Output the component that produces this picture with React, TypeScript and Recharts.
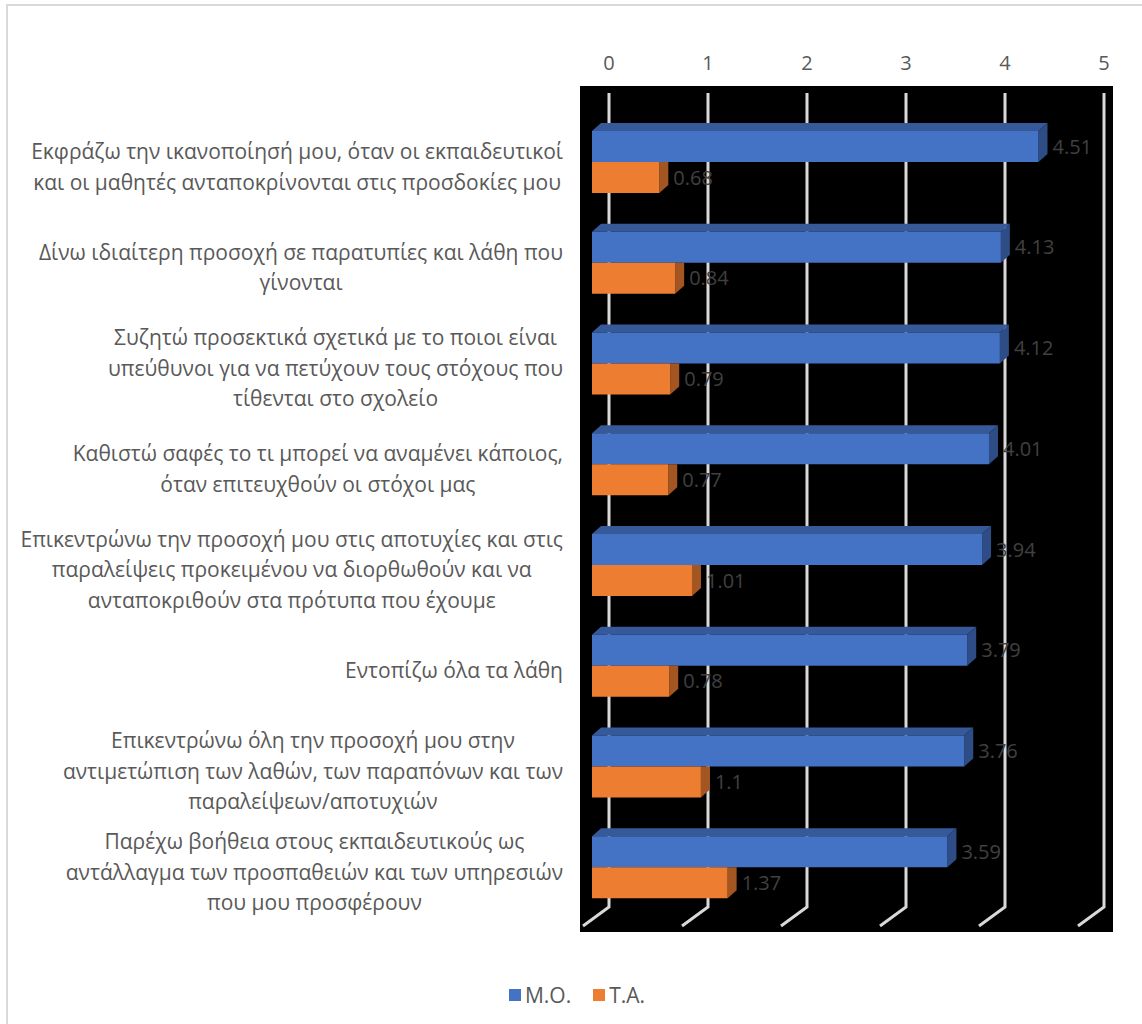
import { BarChart, Bar, XAxis, YAxis, CartesianGrid, LabelList, Legend } from 'recharts';

const categories: string[][] = [
  ['Εκφράζω την ικανοποίησή μου, όταν οι εκπαιδευτικοί', 'και οι μαθητές ανταποκρίνονται στις προσδοκίες μου'],
  ['Δίνω ιδιαίτερη προσοχή σε παρατυπίες και λάθη που', 'γίνονται'],
  ['Συζητώ προσεκτικά σχετικά με το ποιοι είναι', 'υπεύθυνοι για να πετύχουν τους στόχους που', 'τίθενται στο σχολείο'],
  ['Καθιστώ σαφές το τι μπορεί να αναμένει κάποιος,', 'όταν επιτευχθούν οι στόχοι μας'],
  ['Επικεντρώνω την προσοχή μου στις αποτυχίες και στις', 'παραλείψεις προκειμένου να διορθωθούν και να', 'ανταποκριθούν στα πρότυπα που έχουμε'],
  ['Εντοπίζω όλα τα λάθη'],
  ['Επικεντρώνω όλη την προσοχή μου στην', 'αντιμετώπιση των λαθών, των παραπόνων και των', 'παραλείψεων/αποτυχιών'],
  ['Παρέχω βοήθεια στους εκπαιδευτικούς ως', 'αντάλλαγμα των προσπαθειών και των υπηρεσιών', 'που μου προσφέρουν'],
];

const meanValues = [4.51, 4.13, 4.12, 4.01, 3.94, 3.79, 3.76, 3.59];
const sdValues = [0.68, 0.84, 0.79, 0.77, 1.01, 0.78, 1.1, 1.37];

const xTicks = [0, 1, 2, 3, 4, 5];

const seriesNames = { mean: 'Μ.Ο.', sd: 'Τ.Α.' };

const data = categories.map((lines, i) => ({
  name: lines.join('|'),
  mean: meanValues[i],
  sd: sdValues[i],
}));

const FONT = '"Open Sans", "Noto Sans", sans-serif';
const TEXT = '#595959';
// 3d look: back wall is shifted right/up from the bar front faces
const DEPTH_X = 9;
const DEPTH_Y = 8;
const WALL_SHIFT = 17;

let measureCtx: CanvasRenderingContext2D | null = null;
function textWidth(s: string, font: string) {
  if (!measureCtx) measureCtx = document.createElement('canvas').getContext('2d');
  if (!measureCtx) return s.length * 10;
  measureCtx.font = font;
  return measureCtx.measureText(s).width;
}

function CategoryTick(props: any) {
  const { x, y, payload } = props;
  const lines: string[] = String(payload.value).split('|');
  const size = 21;
  const maxW = Math.max(...lines.map((l) => textWidth(l, `${size}px ${FONT}`)));
  const cx = x - maxW / 2;
  const lh = 30.5;
  return (
    <g>
      {lines.map((l, i) => (
        <text
          key={i}
          x={cx}
          y={y + 12 + (i - (lines.length - 1) / 2) * lh}
          textAnchor="middle"
          fontSize={size}
          fontFamily={FONT}
          fill={TEXT}
        >
          {l}
        </text>
      ))}
    </g>
  );
}

function ValueTick(props: any) {
  const { x, y, payload } = props;
  return (
    <text x={x + WALL_SHIFT} y={y - 16} textAnchor="middle" fontSize={20} fontFamily={FONT} fill={TEXT}>
      {payload.value}
    </text>
  );
}

function GridLine(props: any) {
  const { x1, y1, y2 } = props;
  const x = x1 + WALL_SHIFT;
  return (
    <path
      key={`g-${x1}`}
      d={`M${x},${y1 + 7} L${x},${y2 - 25} L${x - 26},${y2 - 6}`}
      stroke="#D9D9D9"
      strokeWidth={3}
      fill="none"
    />
  );
}

function MeanBar(props: any) {
  const { x, y, width, height } = props;
  if (!width || width <= 0) return null;
  return (
    <g>
      <polygon
        points={`${x},${y} ${x + DEPTH_X},${y - DEPTH_Y} ${x + width + DEPTH_X},${y - DEPTH_Y} ${x + width},${y}`}
        fill="#36599A"
      />
      <polygon
        points={`${x + width},${y} ${x + width + DEPTH_X},${y - DEPTH_Y} ${x + width + DEPTH_X},${y + height - DEPTH_Y} ${x + width},${y + height}`}
        fill="#2E4C85"
      />
      <rect x={x} y={y} width={width} height={height} fill="#4472C4" />
    </g>
  );
}

function SdBar(props: any) {
  const { x, y, width, height } = props;
  if (!width || width <= 0) return null;
  return (
    <g>
      <polygon
        points={`${x + width},${y} ${x + width + DEPTH_X},${y} ${x + width + DEPTH_X},${y + height - DEPTH_Y} ${x + width},${y + height}`}
        fill="#A35522"
      />
      <rect x={x} y={y} width={width} height={height} fill="#ED7D31" />
    </g>
  );
}

function LegendContent() {
  const items = [
    { name: seriesNames.mean, color: '#4472C4' },
    { name: seriesNames.sd, color: '#ED7D31' },
  ];
  return (
    <div style={{ display: 'flex', justifyContent: 'center', height: 30, alignItems: 'center', fontFamily: FONT, fontSize: 21, color: TEXT, paddingLeft: 12 }}>
      {items.map((it) => (
        <div key={it.name} style={{ display: 'flex', alignItems: 'center', margin: '0 11px' }}>
          <span style={{ display: 'inline-block', width: 12, height: 12, background: it.color, marginRight: 4 }} />
          <span>{it.name}</span>
        </div>
      ))}
    </div>
  );
}

export default function App() {
  return (
    <div style={{ position: 'absolute', left: 0, top: 0, width: 1142, height: 1024, background: '#fff', overflow: 'hidden' }}>
      <div style={{ position: 'absolute', left: 6, top: 4, width: 1200, height: 1100, border: '2px solid #D9D9D9' }} />
      <div style={{ position: 'absolute', left: 0, top: 0 }}>
        <BarChart
          width={1142}
          height={1024}
          data={data}
          layout="vertical"
          margin={{ top: 46, right: 29, bottom: 62, left: 0 }}
          barGap={0}
          barSize={31}
        >
          <CartesianGrid fill="#000000" horizontal={false} vertical={GridLine} syncWithTicks stroke="#D9D9D9" />
          <XAxis
            type="number"
            orientation="top"
            domain={[0, 5]}
            ticks={xTicks}
            axisLine={false}
            tickLine={false}
            tickSize={0}
            tickMargin={0}
            height={40}
            padding={{ left: 12, right: 26 }}
            tick={ValueTick}
            interval={0}
          />
          <YAxis
            type="category"
            dataKey="name"
            width={580}
            axisLine={false}
            tickLine={false}
            tickSize={0}
            tickMargin={17}
            padding={{ top: 26, bottom: 14 }}
            tick={CategoryTick}
            interval={0}
          />
          <Legend
            verticalAlign="bottom"
            content={LegendContent}
            wrapperStyle={{ top: 980, left: 0, width: 1142, height: 30 }}
          />
          <Bar dataKey="mean" name={seriesNames.mean} fill="#4472C4" shape={MeanBar} isAnimationActive={false}>
            <LabelList dataKey="mean" position="right" offset={14} fill="#404040" fontSize={20} fontFamily={FONT} />
          </Bar>
          <Bar dataKey="sd" name={seriesNames.sd} fill="#ED7D31" shape={SdBar} isAnimationActive={false}>
            <LabelList dataKey="sd" position="right" offset={14} fill="#404040" fontSize={20} fontFamily={FONT} />
          </Bar>
        </BarChart>
      </div>
    </div>
  );
}
